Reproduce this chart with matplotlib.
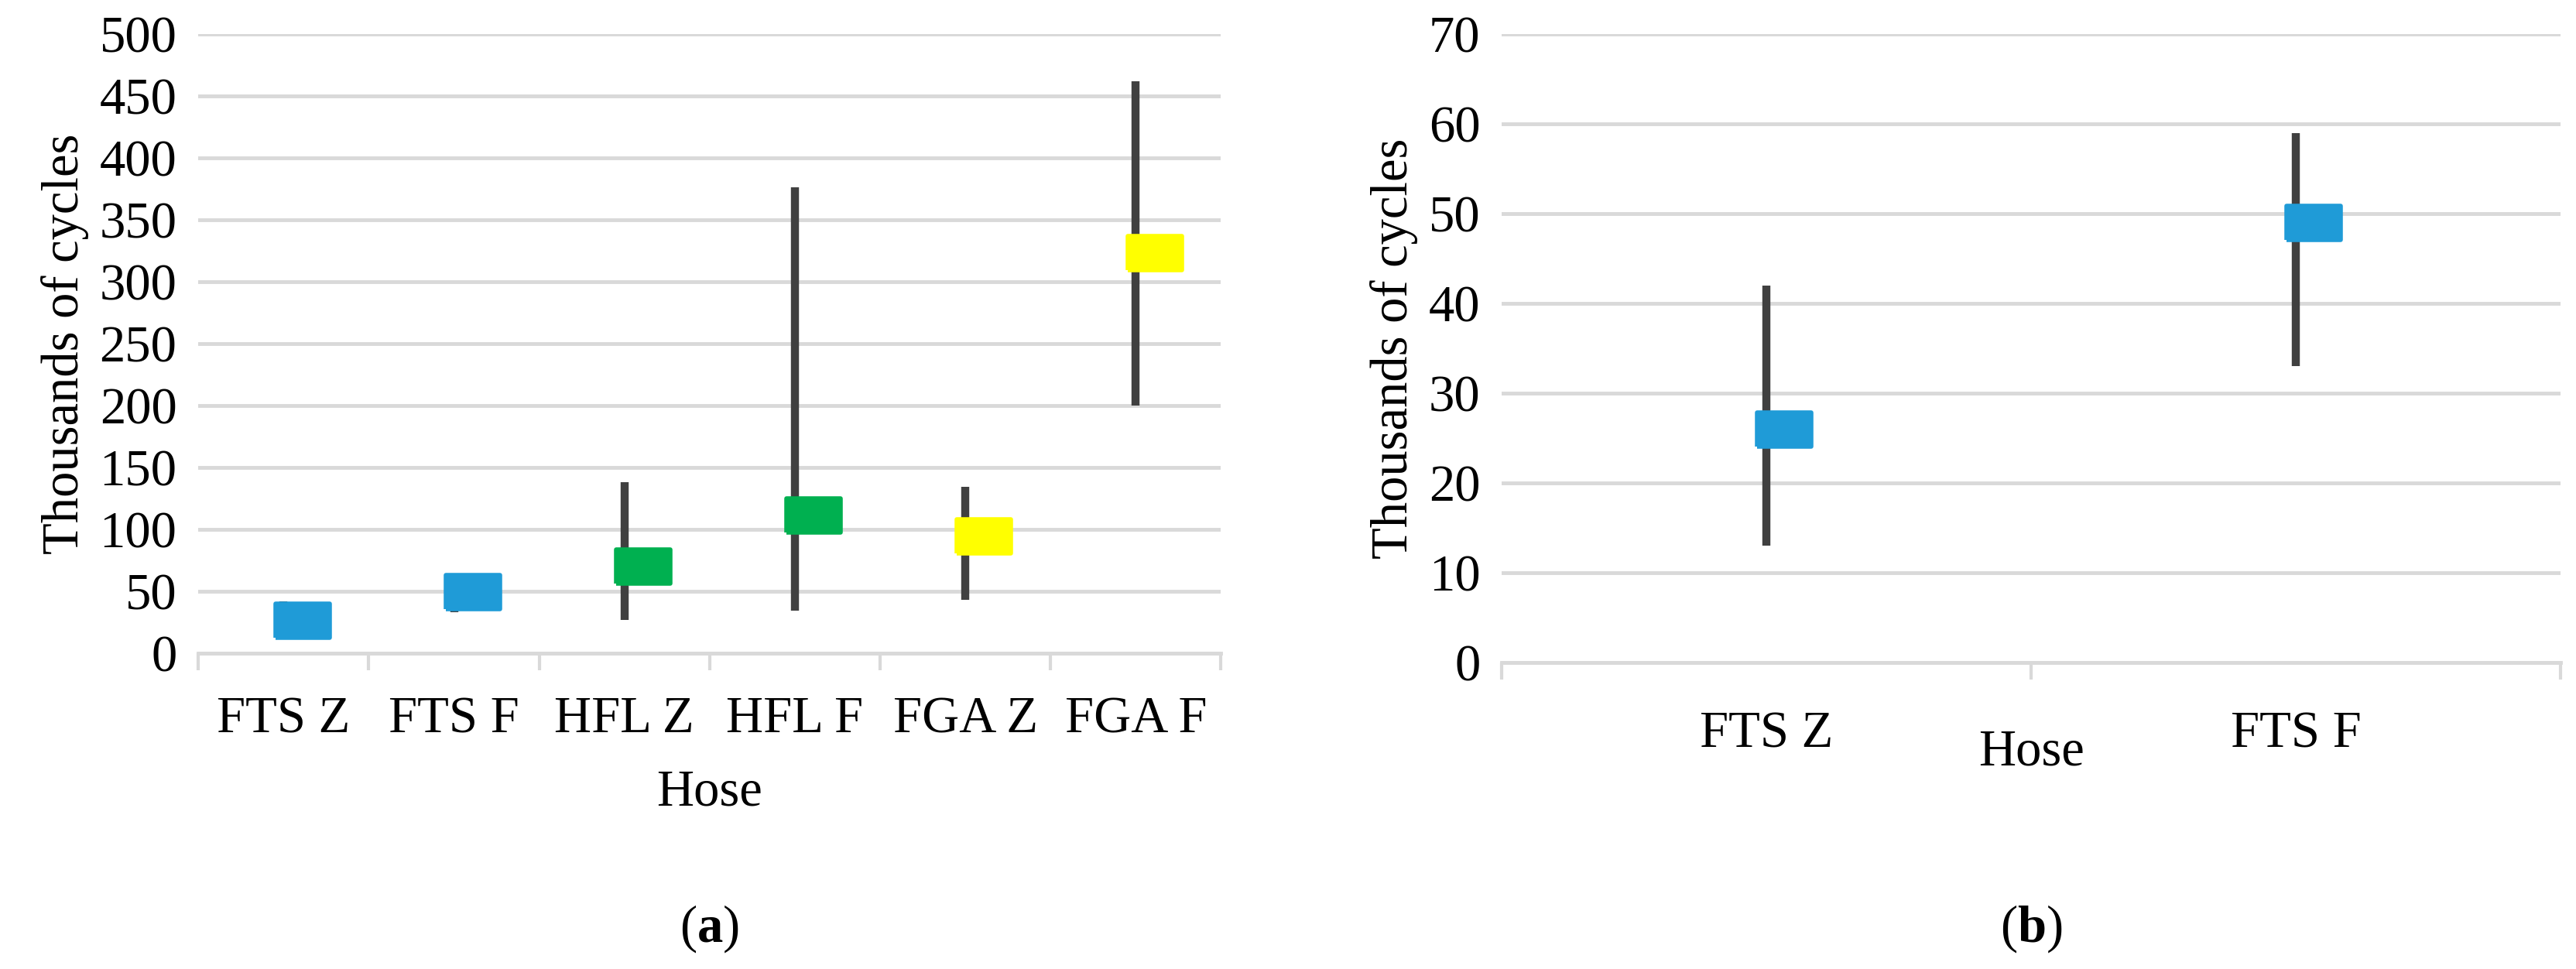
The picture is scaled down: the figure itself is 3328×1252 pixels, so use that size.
import matplotlib
matplotlib.use("Agg")
import matplotlib.pyplot as plt

# panel (a)
hoses_a = ["FTS Z", "FTS F", "HFL Z", "HFL F", "FGA Z", "FGA F"]
mean_a = [26, 49, 70, 111, 94, 323]
low_a = [13, 33, 27, 34, 43, 200]
high_a = [42, 59, 138, 376, 134, 462]
colors_a = ["#1f9bd7", "#1f9bd7", "#00b050", "#00b050", "#ffff00", "#ffff00"]

# panel (b)
hoses_b = ["FTS Z", "FTS F"]
mean_b = [26, 49]
low_b = [13, 33]
high_b = [42, 59]
colors_b = ["#1f9bd7", "#1f9bd7"]

plt.rcParams["font.family"] = ["Liberation Serif", "DejaVu Serif"]
plt.rcParams["mathtext.fontset"] = "custom"
plt.rcParams["mathtext.bf"] = "Liberation Serif:bold"
FS = 48
box = [(-1, -0.62), (1, -0.62), (1, 0.62), (-1, 0.62), (-1, -0.62)]

fig = plt.figure(figsize=(33.28, 12.52), dpi=100)
ax1 = fig.add_axes([0.077, 0.326, 0.397, 0.639])
ax2 = fig.add_axes([0.583, 0.316, 0.411, 0.649])


def draw(ax, names, mean, low, high, colors, ymax, step, off):
    n = len(names)
    for i in range(n):
        ax.plot([i, i], [low[i], high[i]], color="#404040", lw=7.5,
                solid_capstyle="butt", zorder=3)
        ax.plot(i + off, mean[i], marker=box, ms=50, color=colors[i],
                mec=colors[i], mew=4, zorder=4, linestyle="none")
    ax.set_xlim(-0.5, n - 0.5)
    ax.set_ylim(0, ymax)
    ax.set_yticks(range(0, ymax + 1, step))
    ax.yaxis.grid(True, color="#d9d9d9", lw=3.5)
    ax.set_axisbelow(True)
    for s in ["top", "right", "left"]:
        ax.spines[s].set_visible(False)
    ax.spines["bottom"].set_color("#d9d9d9")
    ax.spines["bottom"].set_linewidth(3.5)
    ax.set_xticks(range(n))
    ax.set_xticklabels(names, fontsize=FS)
    ax.set_xticks([i - 0.5 for i in range(n + 1)], minor=True)
    ax.tick_params(axis="x", which="major", length=0, pad=40)
    ax.tick_params(axis="x", which="minor", length=16, width=3, color="#d9d9d9")
    ax.tick_params(axis="y", length=0, labelsize=FS, pad=20)
    ax.set_ylabel("Thousands of cycles", fontsize=FS, labelpad=10)


draw(ax1, hoses_a, mean_a, low_a, high_a, colors_a, 500, 50, 0.11)
draw(ax2, hoses_b, mean_b, low_b, high_b, colors_b, 70, 10, 0.033)
ax2.tick_params(axis="x", which="major", pad=45)

fig.text(0.2755, 1 - 1024 / 1252, "Hose", fontsize=FS, ha="center", va="center")
fig.text(0.7885, 1 - 972 / 1252, "Hose", fontsize=FS, ha="center", va="center")
fig.text(0.2755, 1 - 1200 / 1252, "($\\mathbf{a}$)", fontsize=FS, ha="center", va="center")
fig.text(0.7885, 1 - 1200 / 1252, "($\\mathbf{b}$)", fontsize=FS, ha="center", va="center")

fig.savefig("out.png", dpi=100, facecolor="white")
